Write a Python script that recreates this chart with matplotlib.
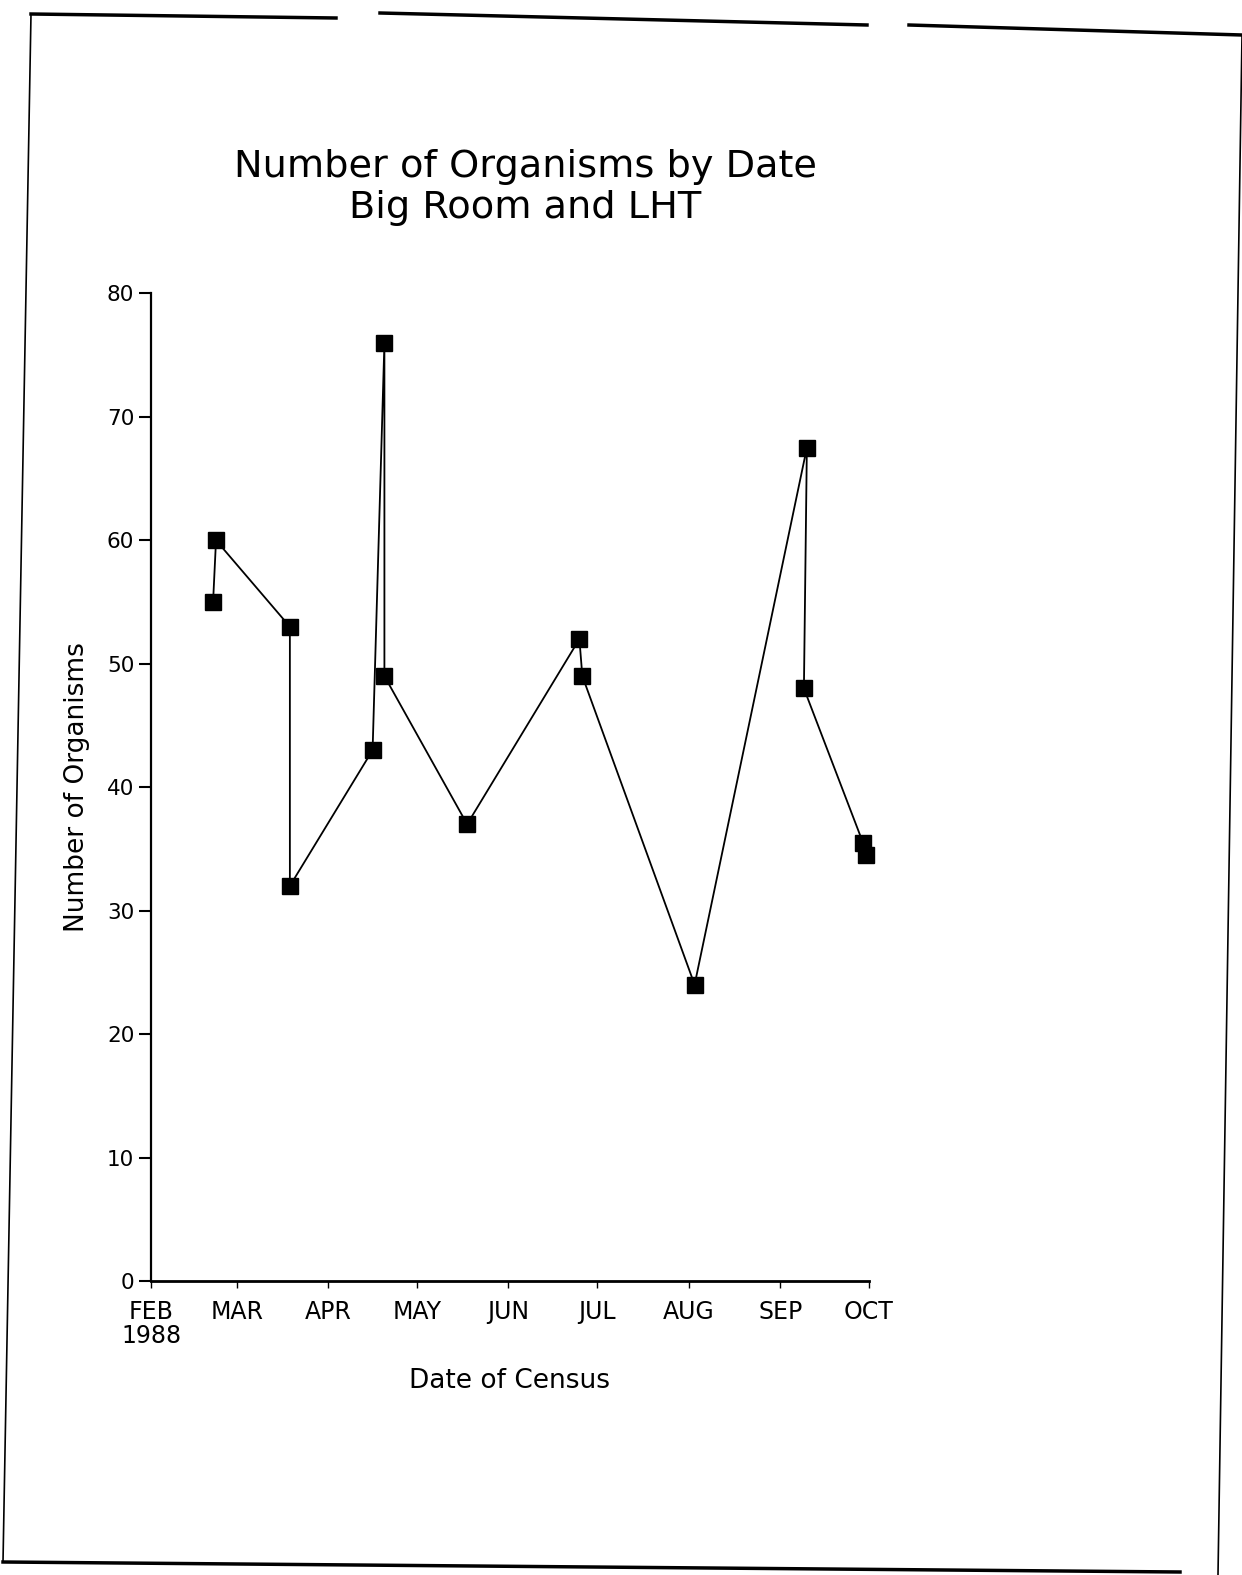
import matplotlib
matplotlib.use("Agg")
import matplotlib.pyplot as plt
from matplotlib.lines import Line2D
import pandas as pd

# Census dates and organism counts (Big Room and LHT, 1988)
census_dates = [
    "1988-02-22", "1988-02-23", "1988-03-19", "1988-03-19", "1988-04-16",
    "1988-04-20", "1988-04-20", "1988-05-18", "1988-06-25", "1988-06-26",
    "1988-08-03", "1988-09-10", "1988-09-09", "1988-09-29", "1988-09-30",
]
organisms = [55, 60, 53, 32, 43, 76, 49, 37, 52, 49, 24, 67.5, 48, 35.5, 34.5]

month_starts = pd.date_range("1988-02-01", "1988-10-01", freq="MS")
month_labels = ["FEB\n1988", "MAR", "APR", "MAY", "JUN", "JUL", "AUG", "SEP", "OCT"]
y_ticks = [0, 10, 20, 30, 40, 50, 60, 70, 80]

dates = pd.to_datetime(census_dates)

fig = plt.figure(figsize=(12.42, 15.75), dpi=100)
ax = fig.add_axes([0.1216, 0.1867, 0.578, 0.627])

ax.plot(dates, organisms, color="black", linewidth=1.3,
        marker="s", markersize=12, markerfacecolor="black",
        markeredgecolor="black", clip_on=False)

ax.set_xlim(month_starts[0], month_starts[-1])
ax.set_ylim(0, 80)
ax.set_xticks(month_starts)
ax.set_xticklabels(month_labels, fontsize=17, linespacing=1.0)
ax.set_yticks(y_ticks)
ax.set_yticklabels([str(v) for v in y_ticks], fontsize=15.5)

ax.tick_params(axis="y", direction="out", length=9, width=1.5, pad=3)
ax.tick_params(axis="x", direction="out", length=5, width=1.0, pad=9)

for side in ["top", "right"]:
    ax.spines[side].set_visible(False)
ax.spines["left"].set_linewidth(1.6)
ax.spines["bottom"].set_linewidth(2.0)

ax.set_xlabel("Date of Census", fontsize=19, labelpad=14)
ax.set_ylabel("Number of Organisms", fontsize=19, labelpad=12)

fig.text(0.423, 0.881, "Number of Organisms by Date\nBig Room and LHT",
         ha="center", va="center", fontsize=27.5, linespacing=1.15)

# page border from the printed sheet
W, H = 1242.0, 1575.0
def edge(x0, y0, x1, y1, lw=2.5):
    fig.add_artist(Line2D([x0 / W, x1 / W], [1 - y0 / H, 1 - y1 / H],
                          transform=fig.transFigure, color="black", linewidth=lw))

edge(31, 14, 336, 18)
edge(380, 13, 867, 25)
edge(909, 25, 1242, 35)
edge(31, 14, 3, 1562, lw=1.2)
edge(3, 1562, 1180, 1572)
edge(1242, 36, 1218, 1575, lw=1.2)

fig.savefig("out.png", dpi=100)
